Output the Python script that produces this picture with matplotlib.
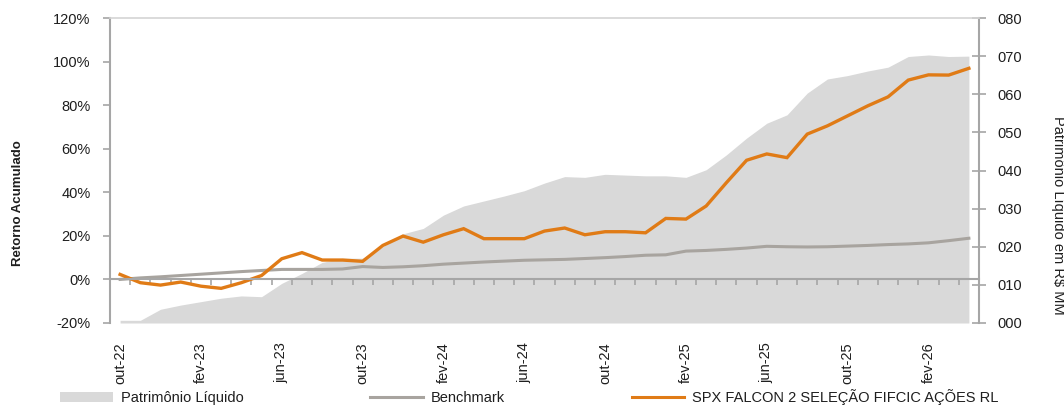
import numpy as np
import matplotlib
matplotlib.use('Agg')
import matplotlib.pyplot as plt
from matplotlib.patches import Patch
from matplotlib.lines import Line2D
from matplotlib.ticker import FuncFormatter

plt.rcParams['font.family'] = ['Liberation Sans', 'DejaVu Sans']

# monthly categories, out-22 .. abr-26
month_names = ['jan', 'fev', 'mar', 'abr', 'mai', 'jun', 'jul', 'ago', 'set', 'out', 'nov', 'dez']
months = []
for k in range(43):
    m = (9 + k) % 12
    yy = 22 + (9 + k) // 12
    months.append(f'{month_names[m]}-{yy}')

# cumulative return of the fund (%)
fund = [2.3, -1.5, -2.6, -1.2, -3.1, -4.1, -1.5, 1.8, 9.5, 12.3,
        8.9, 8.9, 8.3, 15.6, 19.9, 17.1, 20.5, 23.3, 18.7, 18.7,
        18.7, 22.2, 23.6, 20.5, 21.9, 21.9, 21.4, 28.0, 27.7, 33.7,
        44.4, 54.7, 57.6, 55.9, 66.7, 70.5, 75.1, 79.7, 83.8, 91.5,
        93.9, 93.8, 96.9]

# benchmark cumulative return (%)
bench = [0.0, 0.7, 1.2, 1.8, 2.4, 3.0, 3.6, 4.1, 4.6, 4.6,
         4.6, 4.8, 5.9, 5.5, 5.8, 6.3, 7.0, 7.5, 8.0, 8.4,
         8.8, 9.0, 9.2, 9.6, 10.0, 10.5, 11.1, 11.3, 13.0, 13.3,
         13.8, 14.4, 15.2, 15.0, 14.9, 15.0, 15.3, 15.6, 16.0, 16.3,
         16.8, 17.8, 18.9]

# net assets in R$ MM (right axis)
pl = [0.7, 0.7, 3.6, 4.7, 5.6, 6.5, 7.1, 6.9, 10.4, 13.0,
      15.9, 17.0, 17.0, 20.0, 23.4, 24.8, 28.3, 30.7, 32.0, 33.3,
      34.7, 36.7, 38.4, 38.2, 39.0, 38.8, 38.6, 38.6, 38.2, 40.2,
      44.1, 48.5, 52.4, 54.6, 60.3, 64.0, 64.9, 66.1, 67.1, 69.9,
      70.3, 69.9, 70.0]

orange = '#E07B16'
bench_col = '#A8A49F'
area_col = '#D9D9D9'
axis_col = '#A6A6A6'
txt_col = '#1E1E1E'

W, H = 1064, 405
fig = plt.figure(figsize=(W / 100, H / 100), dpi=100)
ax = fig.add_axes([110 / W, 1 - 323 / H, 869 / W, 305 / H])
ax2 = ax.twinx()
# lines above the area
ax.set_zorder(ax2.get_zorder() + 1)
ax.patch.set_visible(False)

x = np.arange(len(months))

# area on right axis
ax2.fill_between(x, pl, 0, color=area_col, linewidth=0)
ax2.set_ylim(0, 80)
ax2.set_yticks(range(0, 81, 10))
ax2.yaxis.set_major_formatter(FuncFormatter(lambda v, p: f'{v:03.0f}'))

# lines on left axis
ax.plot(x, bench, color=bench_col, lw=2.2, solid_joinstyle='miter')
ax.plot(x, fund, color=orange, lw=2.4, solid_joinstyle='miter')
ax.set_ylim(-20, 120)
ax.set_yticks(range(-20, 121, 20))
ax.yaxis.set_major_formatter(FuncFormatter(lambda v, p: f'{v:.0f}%'))
ax.set_xlim(-0.5, len(months) - 0.5)

# x ticks: labels every 4 months, tick marks between categories
ax.set_xticks(x[::4])
ax.set_xticklabels([months[i] for i in x[::4]])
ax.set_xticks(x[:-1] + 0.5, minor=True)

# spines
ax.spines['bottom'].set_position(('data', 0))
ax.spines['bottom'].set_color(axis_col)
ax.spines['bottom'].set_linewidth(1.5)
ax.spines['left'].set_color(axis_col)
ax.spines['left'].set_linewidth(1.5)
ax.spines['top'].set_color('#D4D4D4')
ax.spines['top'].set_linewidth(1.2)
ax.spines['right'].set_visible(False)
for s in ['top', 'left', 'bottom']:
    ax2.spines[s].set_visible(False)
ax2.spines['right'].set_color(axis_col)
ax2.spines['right'].set_linewidth(1.5)

ax.tick_params(axis='x', which='major', length=0, labelbottom=False)
ax.tick_params(axis='x', which='minor', length=4.5, width=1.2, color=axis_col, direction='out')
ax.tick_params(axis='y', length=5, width=1.2, color=axis_col, direction='out',
               pad=9, labelsize=10.5, labelcolor=txt_col)

# tick labels shown at the bottom of the plot via the twin's x axis
ax2.xaxis.set_visible(True)
ax2.tick_params(axis='x', which='both', length=0, labelbottom=True, labeltop=False,
                labelsize=10.5, labelrotation=90, pad=14, labelcolor=txt_col)
ax2.tick_params(axis='y', length=10, width=1.2, color=axis_col, direction='inout',
                pad=8, labelsize=10.5, labelcolor=txt_col)

# axis titles
fig.text(18 / W, 1 - 203 / H, 'Retorno Acumulado', rotation=90, fontsize=9.5,
         fontweight='bold', ha='center', va='center', color=txt_col)
fig.text(1058 / W, 1 - 215 / H, 'Patrimônio Líquido em R$ MM', rotation=270,
         fontsize=10.5, ha='center', va='center', color=txt_col)

# legend
handles = [Patch(facecolor=area_col, edgecolor='none'),
           Line2D([], [], color=bench_col, lw=2.2),
           Line2D([], [], color=orange, lw=2.2)]
labels = ['Patrimônio Líquido', 'Benchmark', 'SPX FALCON 2 SELEÇÃO FIFCIC AÇÕES RL']
fig.legend(handles, labels, loc='center left', bbox_to_anchor=(60 / W, 1 - 397 / H),
           ncol=3, frameon=False, fontsize=10.5, handlelength=3.6, handleheight=0.7,
           handletextpad=0.55, columnspacing=8.7, borderpad=0, borderaxespad=0,
           labelcolor=txt_col)

fig.savefig('out.png', dpi=100)
